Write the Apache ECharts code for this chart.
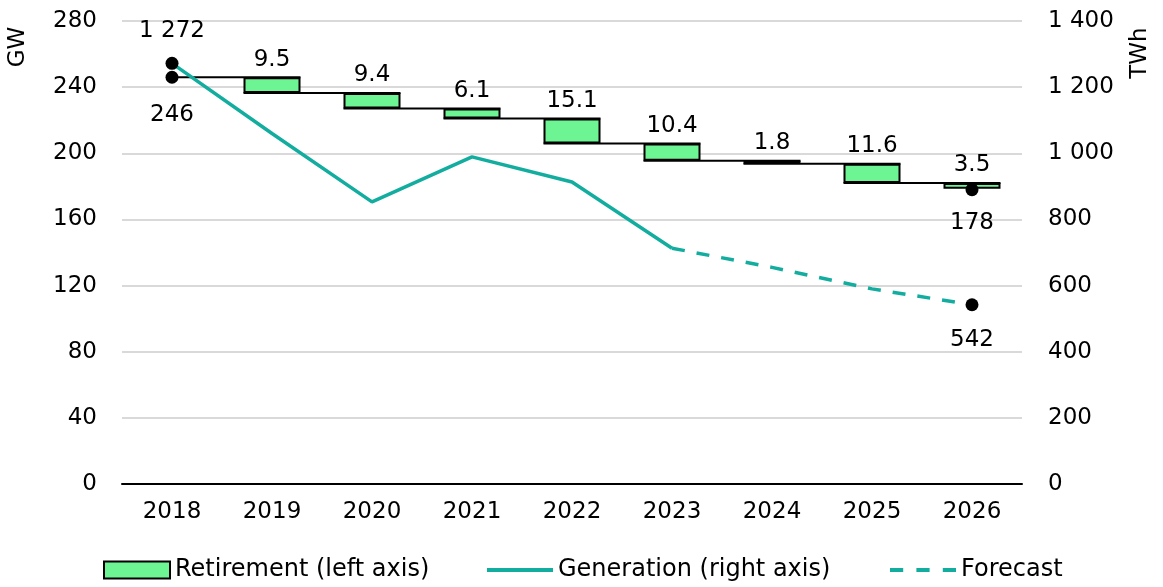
<!DOCTYPE html>
<html>
<head>
<meta charset="utf-8">
<script src="https://cdn.jsdelivr.net/npm/echarts@6/dist/echarts.min.js"></script>
<style>
  html, body { margin: 0; padding: 0; background: #fff; }
  #chart { width: 1163px; height: 587px; }
</style>
</head>
<body>
<div id="chart"></div>
<script>
// data
const years = ['2018', '2019', '2020', '2021', '2022', '2023', '2024', '2025', '2026']
const startGW = 246
const endGW = 178
const retirement = [null, 9.5, 9.4, 6.1, 15.1, 10.4, 1.8, 11.6, 3.5]
const generation = [1272, 1060, 853, 989, 913, 713, null, null, null]
const forecast = [null, null, null, null, null, 713, 655, 590, 542]
const gwTicks = [0, 40, 80, 120, 160, 200, 240, 280]
const twhTicks = [0, 200, 400, 600, 800, 1000, 1200, 1400]

const FONT = 'DejaVu Sans, Liberation Sans, sans-serif'
const FS = 23
const TEAL = '#13ada0'
const GREEN = '#6cf592'

// waterfall levels (after each year's retirement)
let levels = [startGW]
for (let i = 1; i < retirement.length; i++) {
  levels.push(Math.round((levels[i - 1] - retirement[i]) * 10) / 10)
}
let base = levels.map((v, i) => (i === 0 ? null : v))
let connectors = []
for (let i = 0; i < years.length - 1; i++) {
  connectors.push([i, levels[i]])
}

const spaced = v => String(v).replace(/\B(?=(\d{3})+(?!\d))/g, ' ')

// one legend box per item so each sits where the original puts it
const legendBox = (name, left, icon, itemStyle) => ({
  left: left,
  top: 553,
  itemWidth: 66,
  itemHeight: 17,
  itemGap: 0,
  textStyle: { fontSize: 24, color: '#000', fontFamily: FONT },
  itemStyle: itemStyle,
  data: [{ name: name, icon: icon }]
})

let chart = echarts.init(document.getElementById('chart'))
let option = {
  animation: false,
  textStyle: { fontFamily: FONT },
  grid: {
    left: 122,
    right: 141,
    top: 21,
    bottom: 103,
    outerBoundsMode: 'none'
  },
  legend: [
    legendBox('Retirement (left axis)', 98, 'rect', { borderColor: '#000', borderWidth: 2 }),
    legendBox('Generation (right axis)', 482, 'path://M0,0H66V4H0Z', { borderWidth: 0 }),
    legendBox('Forecast', 885, 'path://M0,0H14V4H0Z M28,0H42V4H28Z M56,0H70V4H56Z', { borderWidth: 0 })
  ],
  graphic: [
    {
      type: 'text',
      x: 18,
      y: 47,
      rotation: Math.PI / 2,
      style: { text: 'GW', font: FS + 'px ' + FONT, fill: '#000', align: 'center', verticalAlign: 'middle' }
    },
    {
      type: 'text',
      x: 1140,
      y: 53,
      rotation: Math.PI / 2,
      style: { text: 'TWh', font: FS + 'px ' + FONT, fill: '#000', align: 'center', verticalAlign: 'middle' }
    }
  ],
  xAxis: {
    type: 'category',
    data: years,
    axisLine: { lineStyle: { color: '#000', width: 2 } },
    axisTick: { show: false },
    axisLabel: { color: '#000', fontSize: FS, margin: 17, fontFamily: FONT }
  },
  yAxis: [
    {
      type: 'value',
      min: gwTicks[0],
      max: gwTicks[gwTicks.length - 1],
      interval: 40,
      axisLine: { show: false },
      axisTick: { show: false },
      splitLine: { lineStyle: { color: '#d9d9d9', width: 2 } },
      axisLabel: { color: '#000', fontSize: FS, margin: 25, fontFamily: FONT }
    },
    {
      type: 'value',
      min: twhTicks[0],
      max: twhTicks[twhTicks.length - 1],
      interval: 200,
      axisLine: { show: false },
      axisTick: { show: false },
      splitLine: { show: false },
      axisLabel: { color: '#000', fontSize: FS, margin: 26, fontFamily: FONT, formatter: spaced }
    }
  ],
  series: [
    {
      name: 'base',
      type: 'bar',
      stack: 'wf',
      barWidth: '57%',
      itemStyle: { color: 'transparent' },
      silent: true,
      data: base
    },
    {
      name: 'Retirement (left axis)',
      type: 'bar',
      stack: 'wf',
      barWidth: '57%',
      itemStyle: { color: GREEN, borderColor: '#000', borderWidth: 2 },
      label: {
        show: true,
        position: 'top',
        distance: 6,
        color: '#000',
        fontSize: FS,
        fontFamily: FONT
      },
      data: retirement
    },
    {
      // black step lines between the boxes
      name: 'levels',
      type: 'custom',
      z: 3,
      silent: true,
      renderItem (params, api) {
        let i = api.value(0)
        let lv = api.value(1)
        let p0 = api.coord([i, lv])
        let p1 = api.coord([i + 1, lv])
        let hw = api.size([1, 0])[0] * 0.285
        return {
          type: 'line',
          shape: { x1: i === 0 ? p0[0] : p0[0] - hw, y1: p0[1], x2: p1[0] + hw, y2: p0[1] },
          style: { stroke: '#000', lineWidth: 2 }
        }
      },
      data: connectors
    },
    {
      name: 'Generation (right axis)',
      type: 'line',
      yAxisIndex: 1,
      z: 4,
      symbol: 'none',
      lineStyle: { color: TEAL, width: 3.5 },
      itemStyle: { color: TEAL },
      data: generation
    },
    {
      name: 'Forecast',
      type: 'line',
      yAxisIndex: 1,
      z: 4,
      symbol: 'none',
      lineStyle: { color: TEAL, width: 3.5, type: [13, 12] },
      itemStyle: { color: TEAL },
      data: forecast
    },
    {
      name: 'gwEnds',
      type: 'scatter',
      z: 5,
      symbolSize: 13,
      itemStyle: { color: '#000', opacity: 1 },
      label: {
        show: true,
        position: 'bottom',
        color: '#000',
        fontSize: FS,
        fontFamily: FONT
      },
      data: [
        { value: [0, startGW], label: { distance: 20 } },
        { value: [years.length - 1, endGW], label: { distance: 15 } }
      ]
    },
    {
      name: 'twhEnds',
      type: 'scatter',
      yAxisIndex: 1,
      z: 5,
      symbolSize: 13,
      itemStyle: { color: '#000', opacity: 1 },
      label: {
        show: true,
        color: '#000',
        fontSize: FS,
        fontFamily: FONT,
        formatter: p => spaced(p.value[1])
      },
      data: [
        { value: [0, generation[0]], label: { position: 'top', distance: 14 } },
        { value: [years.length - 1, forecast[forecast.length - 1]], label: { position: 'bottom', distance: 17 } }
      ]
    }
  ]
}
chart.setOption(option)
window.addEventListener('resize', () => {
  chart.resize()
})
</script>
</body>
</html>
